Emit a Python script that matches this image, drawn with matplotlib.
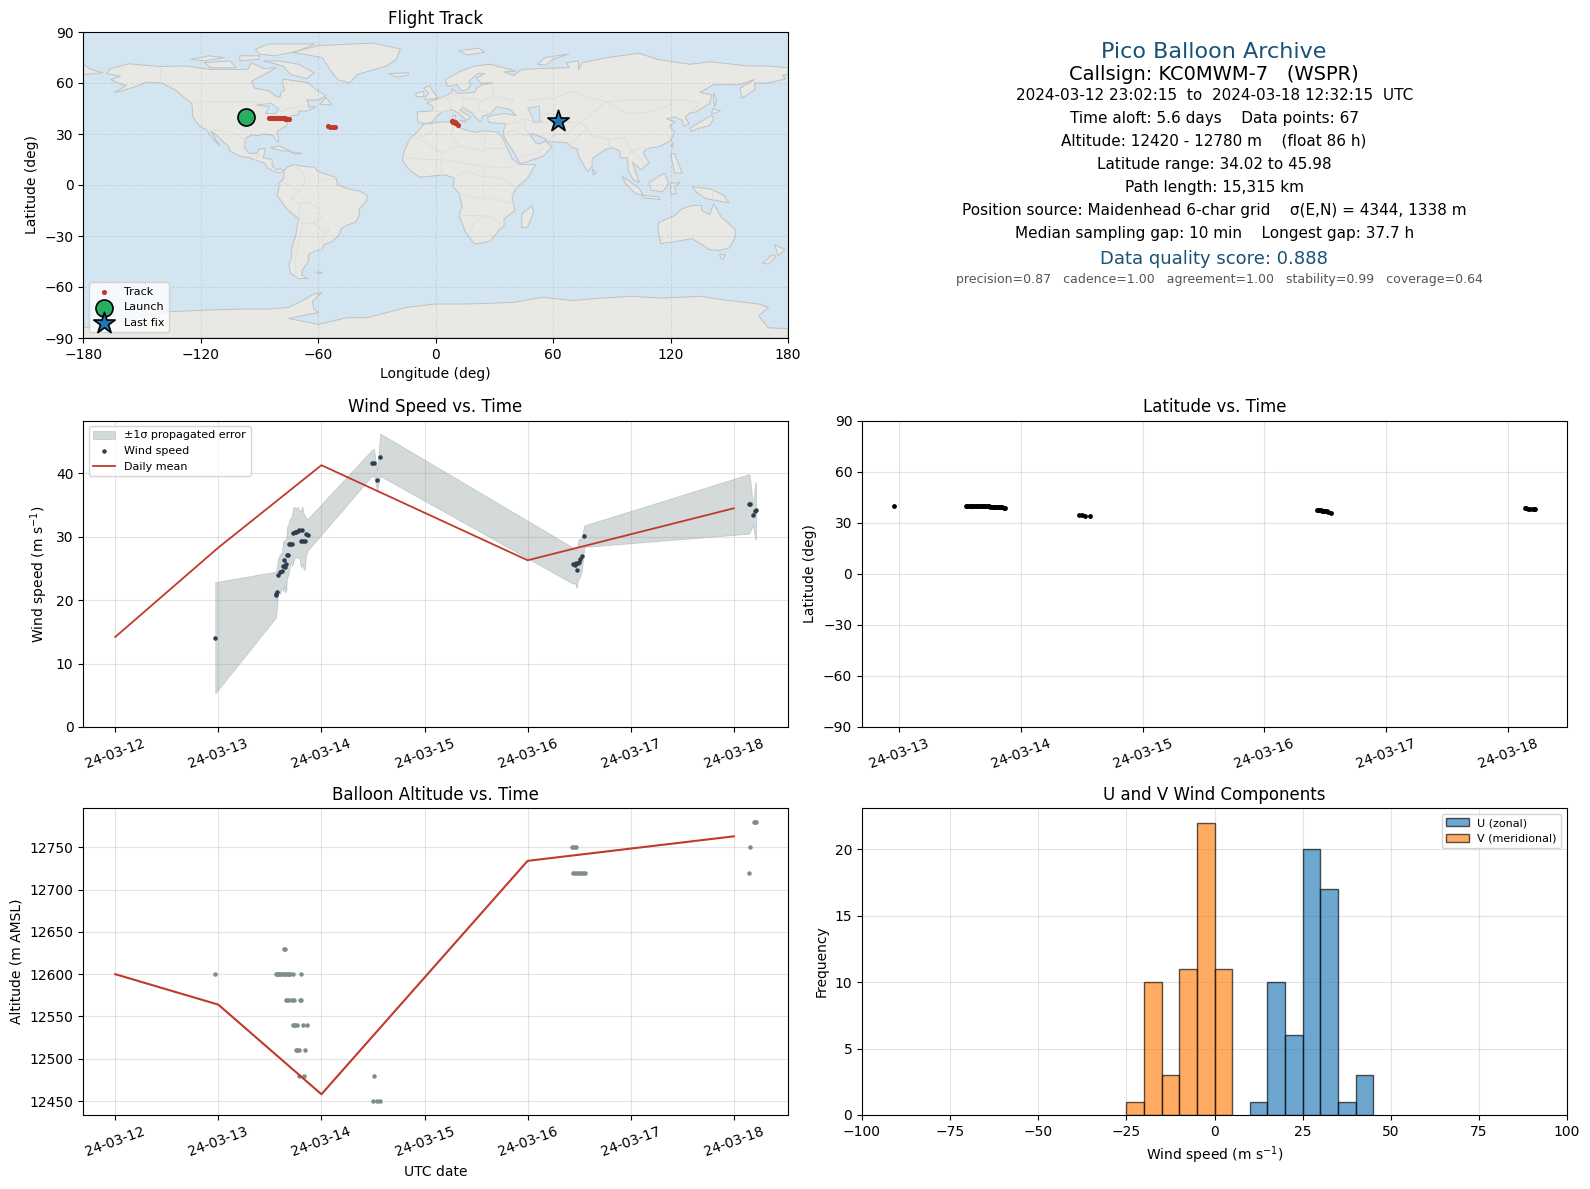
#!/usr/bin/env python3
"""Pico balloon flight summary: map, info text, wind, latitude, altitude, histogram."""
from datetime import datetime, timedelta

import matplotlib

matplotlib.use("Agg")
import matplotlib.dates as mdates
import matplotlib.pyplot as plt
from matplotlib.patches import Polygon

W, H = 1590, 1189

RED = "#c0392b"
DARK = "#2c3e50"
GREY = "#7f8c8d"
TITLE_BLUE = "#1a5276"
OCEAN = "#d3e5f1"
LAND = "#e8e8e4"
COAST = "#bfc2c3"
BORDER = "#dedfdb"

# daily means
day_t = [12, 13, 14, 16, 18]
day_wind = [14.2, 28.3, 41.3, 26.3, 34.5]
day_alt = [12600, 12564, 12458, 12734, 12763]

# wind speed samples, with upper and lower edge of the error band
wind_t = [12.97, 13.555, 13.56, 13.565, 13.58, 13.60, 13.615, 13.63, 13.64, 13.645, 13.66,
          13.665, 13.68, 13.69, 13.70, 13.715, 13.725, 13.74, 13.755, 13.77, 13.785, 13.80,
          13.815, 13.825, 13.84, 13.85, 13.865, 14.49, 14.51, 14.54, 14.57, 16.44, 16.455,
          16.465, 16.475, 16.485, 16.495, 16.505, 16.525, 16.55, 18.15, 18.155, 18.185,
          18.21, 18.215]
wind_speed = [14.1, 20.8, 21.0, 21.3, 24.0, 24.5, 24.6, 25.4, 26.4, 25.2, 25.7, 27.2, 27.2,
              28.9, 28.9, 28.9, 30.6, 30.7, 30.8, 30.9, 31.0, 29.3, 31.0, 29.4, 29.3, 30.4,
              30.3, 41.6, 41.6, 38.95, 42.6, 25.7, 25.5, 25.8, 24.8, 25.9, 26.0, 26.5, 27.0,
              30.2, 35.2, 35.2, 33.5, 34.1, 34.2]
wind_upper = [22.85, 24.5, 24.6, 25.0, 26.6, 27.3, 27.5, 29.5, 29.0, 29.3, 30.0, 31.5, 32.0,
              32.8, 32.8, 33.5, 34.6, 34.7, 34.5, 34.7, 34.3, 34.0, 34.8, 33.8, 33.3, 33.0,
              32.8, 43.7, 43.9, 40.5, 46.3, 28.3, 28.1, 28.3, 27.9, 28.8, 29.7, 29.5, 30.0,
              31.8, 39.9, 39.7, 35.0, 38.6, 38.5]
wind_lower = [5.3, 17.2, 17.5, 18.2, 21.3, 21.0, 22.0, 21.4, 22.5, 21.2, 21.5, 23.5, 24.0,
              25.0, 26.0, 25.4, 26.0, 26.6, 26.9, 26.6, 26.7, 25.2, 25.6, 25.0, 24.8, 27.0,
              27.8, 39.6, 39.6, 37.3, 39.6, 22.6, 22.7, 22.5, 21.9, 22.9, 23.4, 23.6, 24.5,
              28.4, 30.5, 30.7, 31.8, 29.6, 29.8]

# position samples (time, latitude, longitude)
pos_t = [12.96, 13.55, 13.56, 13.57, 13.58, 13.59, 13.60, 13.61, 13.62, 13.63, 13.64, 13.65,
         13.66, 13.67, 13.68, 13.69, 13.70, 13.71, 13.72, 13.73, 13.74, 13.75, 13.76, 13.77,
         13.78, 13.79, 13.80, 13.81, 13.82, 13.83, 13.84, 13.85, 13.86, 13.87, 14.48, 14.50,
         14.53, 14.57, 16.43, 16.44, 16.45, 16.46, 16.47, 16.48, 16.49, 16.50, 16.51, 16.52,
         16.55, 18.14, 18.15, 18.16, 18.18, 18.20, 18.21, 18.22]
pos_lat = [40.0, 39.6, 39.6, 39.6, 39.6, 39.6, 39.6, 39.6, 39.6, 39.6, 39.6, 39.6, 39.6,
           39.6, 39.6, 39.6, 39.6, 39.5, 39.5, 39.5, 39.5, 39.4, 39.4, 39.4, 39.3, 39.3, 39.2,
           39.1, 39.1, 39.0, 39.0, 39.0, 38.9, 38.9, 34.7, 34.4, 34.2, 34.1, 37.5, 37.4, 37.3,
           37.2, 37.1, 37.0, 36.9, 36.8, 36.6, 36.4, 35.5, 38.5, 38.4, 38.3, 38.1, 37.9, 37.8,
           37.8]
pos_lon = [-96.8, -85.0, -84.7, -84.4, -84.1, -83.8, -83.5, -83.1, -82.8, -82.5, -82.1, -81.8,
           -81.5, -81.1, -80.8, -80.5, -80.1, -79.8, -79.5, -79.1, -78.8, -78.5, -78.2, -77.9,
           -77.6, -77.3, -77.0, -76.7, -76.4, -76.1, -75.8, -75.5, -75.2, -75.0, -55.0, -54.0,
           -52.5, -51.2, 8.4, 8.6, 8.8, 9.0, 9.2, 9.4, 9.6, 9.8, 10.0, 10.3, 11.2, 60.5, 61.0,
           61.3, 61.6, 62.0, 62.2, 62.3]

# altitude samples
alt_t = [12.97, 13.64, 13.65, 13.56, 13.57, 13.58, 13.59, 13.60, 13.62, 13.64, 13.65, 13.66,
         13.68, 13.69, 13.70, 13.72, 13.805, 13.66, 13.67, 13.69, 13.71, 13.73, 13.79, 13.80,
         13.72, 13.73, 13.74, 13.76, 13.82, 13.86, 13.75, 13.76, 13.78, 13.84, 13.785, 13.83,
         14.51, 14.50, 14.54, 14.57, 16.43, 16.45, 16.47, 16.44, 16.46, 16.48, 16.50, 16.52,
         16.54, 16.56, 18.145, 18.155, 18.195, 18.205, 18.215]
alt_m = [12600, 12630, 12630, 12600, 12600, 12600, 12600, 12600, 12600, 12600, 12600, 12600,
         12600, 12600, 12600, 12600, 12600, 12570, 12570, 12570, 12570, 12570, 12570, 12570,
         12540, 12540, 12540, 12540, 12540, 12540, 12510, 12510, 12510, 12510, 12480, 12480,
         12480, 12450, 12450, 12450, 12750, 12750, 12750, 12720, 12720, 12720, 12720, 12720,
         12720, 12720, 12720, 12750, 12780, 12780, 12780]

# histogram bins, 5 m/s wide
u_edges = [10, 15, 20, 25, 30, 35, 40]
u_counts = [1, 10, 6, 20, 17, 1, 3]
v_edges = [-25, -20, -15, -10, -5, 0]
v_counts = [1, 10, 3, 11, 22, 11]

# rough land outlines, lon/lat degrees
north_america = [(-168, 65.5), (-166, 68.5), (-156.5, 71.3), (-141, 69.7), (-128, 70), (-115, 68),
                 (-108, 68), (-96, 68), (-94, 72), (-88, 68.5), (-81.5, 69), (-86, 66), (-94, 61),
                 (-92.5, 57), (-85, 55.3), (-82, 52.5), (-79.5, 51.5), (-79, 54.5), (-77, 56),
                 (-78, 59), (-78, 62.3), (-70, 61), (-65, 60), (-61, 56), (-56, 52.5), (-60, 50),
                 (-66, 50), (-65, 48.5), (-65, 46), (-61, 46), (-66, 43.5), (-70, 43.5),
                 (-70, 41.5), (-74, 40.5), (-75.5, 37.5), (-76, 35), (-81, 31.5), (-80, 27),
                 (-80.5, 25.2), (-82, 27), (-83, 29.2), (-85, 29.7), (-89, 30), (-90, 29),
                 (-94, 29.5), (-97, 27.5), (-97.7, 22), (-95, 18.5), (-91, 18.8), (-90.5, 21),
                 (-87, 21.5), (-88, 16), (-83.5, 15), (-83.5, 11), (-81, 9), (-79, 9.5),
                 (-77.5, 8.5), (-78.5, 7.5), (-80.5, 7.3), (-83, 8.3), (-85.7, 10), (-87.5, 13),
                 (-92, 14.5), (-95, 16), (-100, 17), (-105, 20), (-106, 23), (-109, 26),
                 (-112.5, 30), (-114.7, 31.5), (-112, 26), (-110, 23), (-112, 25), (-115, 29),
                 (-117, 32.5), (-120.5, 34.5), (-124, 40), (-124.5, 48), (-128, 51), (-133, 56),
                 (-140, 60), (-148, 60.5), (-153, 58), (-160, 55.5), (-164, 54.5), (-158, 58.5),
                 (-162, 60), (-166, 62), (-161, 64)]
south_america = [(-77.5, 8.5), (-75, 11), (-72, 12), (-68, 11), (-62, 10.5), (-60, 8), (-55, 6),
                 (-51, 4.5), (-50, 0), (-44, -2.5), (-39, -3.5), (-35, -6), (-35, -9), (-39, -14),
                 (-39, -18), (-41, -22), (-45, -23.5), (-48.5, -26), (-49, -29), (-53, -33.5),
                 (-57, -35), (-58, -38), (-62, -39), (-65, -41), (-65, -45), (-68, -50),
                 (-68.5, -53), (-65, -55), (-70, -55), (-74, -52), (-75, -47), (-73.5, -42),
                 (-73.5, -37), (-71.5, -30), (-70, -20), (-76, -14), (-81, -6), (-80, -2), (-80, 1),
                 (-77.5, 4)]
africa = [(-6, 35.8), (3, 37), (10, 37.3), (11, 34), (15, 32.5), (20, 31), (25, 32), (32, 31),
          (34, 28), (37, 21), (39, 15.5), (43, 12), (51, 12), (47, 4), (41, -2), (39, -7),
          (40.5, -15), (35, -20), (35, -24), (32.5, -26.5), (28, -33), (20, -34.8), (18, -32),
          (15, -27), (12, -18), (13.5, -12), (12, -5), (9, -1), (9.5, 4), (5, 6), (-4, 5),
          (-8, 4.5), (-13, 8.5), (-17, 14.5), (-16, 20), (-13, 27.5), (-9.5, 31)]
eurasia = [(-9, 37), (-9.5, 43), (-2, 43.5), (-1, 46), (-4.5, 48.4), (2, 51), (4, 52), (8, 54),
           (8.5, 57), (11, 54), (14, 54), (20, 54.5), (21, 57), (24, 59), (29.5, 60), (23, 60),
           (21, 63), (25, 65.5), (22, 65.8), (17, 61), (18, 59), (16, 56), (13, 55.5), (11, 59),
           (6, 58), (5, 62), (13, 67), (20, 70), (28, 71), (41, 67), (35, 66.5), (40, 64.5),
           (44, 68), (54, 68.5), (68, 69), (67, 72), (73, 73), (73, 68), (75, 72), (88, 75),
           (104, 77.5), (113, 74), (130, 71), (140, 72.5), (160, 70), (170, 70), (180, 69),
           (180, 65), (177, 64.5), (179, 62.5), (170, 60), (163, 60), (163, 56), (156.5, 51),
           (155.5, 57), (163, 62), (155, 59), (142, 59), (135, 54.5), (141, 53), (140, 48),
           (133, 43), (130, 42.5), (127.5, 40), (129.5, 36), (126.5, 34.5), (126, 38), (122, 40),
           (118, 39), (122.5, 37), (119.5, 35), (122, 31), (120, 26), (114, 22.5), (108, 21.5),
           (106, 19), (109, 13), (105, 9), (100.5, 13.5), (103, 5), (104, 1.5), (101, 3),
           (98.5, 8), (98, 16), (94.5, 16), (94, 20), (90, 22), (87, 21), (80, 15.5), (80, 11),
           (77.5, 8), (73, 17), (72.5, 21), (69, 22.5), (67, 25), (57, 25.5), (56.5, 27),
           (50, 30), (48, 30), (51, 25), (53, 24), (56, 26), (59.5, 22.5), (55, 17), (45, 13),
           (43, 13), (39, 21), (35, 28), (34.5, 31.5), (36, 36), (30, 36.5), (27, 37), (26.5, 40),
           (29, 41), (35, 42), (41, 41), (38, 44.5), (31, 46), (28, 42), (24, 40.5), (23, 37),
           (20, 40), (19, 42), (14, 45.5), (12.5, 44), (18, 40), (16, 38), (12, 42), (8.5, 44.3),
           (3, 43), (0, 39.5), (-2, 36.8), (-5.5, 36)]
antarctica = [(-180, -90), (-180, -84), (-155, -80), (-150, -77), (-135, -74.5), (-115, -73.5),
              (-100, -73), (-85, -73), (-75, -72), (-68, -68), (-62, -64), (-58, -63.3), (-60, -65),
              (-63, -69), (-62, -73), (-60, -75), (-75, -78.5), (-60, -82), (-45, -78), (-35, -78),
              (-28, -76), (-15, -72), (0, -70), (15, -70), (30, -69.5), (40, -69), (55, -66),
              (70, -68), (85, -66.5), (100, -65.5), (115, -66.5), (135, -65.5), (150, -68),
              (165, -70), (170, -72), (165, -77), (170, -84), (180, -84.5), (180, -90)]
greenland = [(-73, 78), (-60, 82), (-32, 83.5), (-18, 80), (-20, 74), (-25, 70), (-40, 65),
             (-44, 60), (-50, 62), (-54, 68), (-58, 75)]
australia = [(114, -22), (122, -18), (126, -14), (131, -12), (136, -12), (136, -15), (140, -17.5),
             (142, -11), (146, -19), (153, -26), (153, -31), (150, -37), (145, -38.5), (140, -38),
             (136, -35), (131, -31.5), (124, -33), (115, -34.5), (113.5, -26)]
islands = [
    [(-80, 73), (-70, 71), (-62, 66), (-66, 62.5), (-74, 65), (-78, 70), (-88, 73)],  # Baffin
    [(-118, 72), (-105, 73), (-102, 69), (-115, 69)],  # Victoria
    [(-92, 80), (-85, 83), (-62, 83), (-70, 79), (-82, 76), (-90, 77)],  # Ellesmere
    [(-125, 74), (-116, 76), (-108, 75), (-118, 73)],
    [(-100, 76), (-90, 76), (-90, 74), (-100, 73)],
    [(-59, 47.5), (-53, 47), (-56, 51.5)],  # Newfoundland
    [(-84.5, 22), (-80, 23), (-74, 20), (-78, 20)],  # Cuba
    [(-74, 19.5), (-68.5, 18.7), (-72, 18)],  # Hispaniola
    [(-24, 65.5), (-14, 66), (-14, 64.5), (-20, 63.5)],  # Iceland
    [(-5.5, 50), (1, 51.2), (0, 53), (-2, 56), (-3, 58.5), (-6, 57), (-3.5, 54), (-5, 52)],  # Britain
    [(-10, 52), (-6, 52), (-6, 55), (-10, 54)],  # Ireland
    [(12, 79), (22, 80.5), (25, 78), (16, 76.5)],  # Svalbard
    [(52, 71), (56, 75), (68, 77), (60, 74), (56, 70.5)],  # Novaya Zemlya
    [(8.3, 41), (9.7, 41), (9.7, 39), (8.5, 39)],  # Sardinia
    [(12.5, 38), (15.5, 38.2), (15, 36.7)],  # Sicily
    [(141.5, 45), (145.5, 43.5), (141, 41.8)],  # Hokkaido
    [(132, 35), (141, 41), (142, 39), (140, 35), (135, 33.5), (130.5, 31.5), (130, 33.5)],  # Honshu
    [(142, 54), (143.5, 50), (142.5, 46), (142, 50)],  # Sakhalin
    [(120.2, 23), (121.5, 25), (121, 22)],  # Taiwan
    [(120, 18.5), (122, 18.5), (124, 13), (126, 7), (122, 7), (121, 13)],  # Philippines
    [(109, 1.5), (117, 7), (119, 1), (116, -4), (110, -3)],  # Borneo
    [(95, 5.5), (104, -2), (106, -6), (102, -5), (97, 1)],  # Sumatra
    [(105.5, -6), (114, -7), (114.5, -8.5), (106, -7.5)],  # Java
    [(120, 1), (125, 1.5), (122, -1), (123, -5), (120, -5.5)],  # Sulawesi
    [(131, -1), (141, -2.5), (147, -6), (150, -10.5), (143, -9), (138, -8), (133, -4)],  # New Guinea
    [(145, -41), (148, -41), (147, -43.5), (146, -43.5)],  # Tasmania
    [(173, -35), (178.5, -38), (175, -41.5), (174, -38)],  # NZ north
    [(172, -41), (174, -42), (170, -46.5), (167, -46)],  # NZ south
    [(49.5, -12), (50, -16), (47, -25), (44, -25), (44, -17)],  # Madagascar
    [(80, 9.5), (82, 7), (80.5, 6)],  # Sri Lanka
    [(-61, -51.3), (-58, -51.3), (-59, -52.3)],  # Falklands
    [(-179.9, 71), (-179.9, 65), (-170, 66), (-176, 68)],  # Chukotka across the date line
]
inland_water = [
    [(47, 45), (53, 46.5), (53, 40), (54, 37), (50, 37), (49, 41)],  # Caspian
    [(-92, 47), (-84, 48), (-80, 45), (-82, 42), (-87, 42), (-85, 46)],  # Great Lakes
]
borders = [
    [(-141, 69.7), (-141, 60)],
    [(-123, 49), (-95, 49), (-88, 48), (-83, 45), (-79, 43), (-75, 45), (-70, 46), (-67, 47)],
    [(-117, 32.5), (-106, 31.7), (-101, 29.5), (-97, 26)],
    [(-92, 14.5), (-91, 17.5), (-89, 18)],
    [(-70, -18), (-68, -23), (-70, -33), (-72, -45), (-71, -52)],
    [(-70, -18), (-69, -11), (-74, -8), (-70, -4), (-75, 0), (-78, 2)],
    [(-72, 12), (-67, 6), (-67, 1), (-70, -4)],
    [(-68, -23), (-62, -22), (-58, -20), (-60, -14), (-65, -10), (-69, -11)],
    [(-62, -22), (-58, -27), (-54, -26), (-57, -30), (-58, -34)],
    [(-60, 8), (-60, 2), (-51, 4)],
    [(-13, 27.5), (-8.5, 27.5), (-1, 32), (-2, 35)],
    [(-8.5, 27.5), (3, 19), (12, 23), (25, 20), (25, 32)],
    [(25, 22), (36, 22)],
    [(-16, 16), (-5, 15), (3, 15), (14, 13), (24, 11), (34, 10), (42, 11)],
    [(9.5, 4), (15, 8), (24, 5), (34, 4), (41, -2)],
    [(12, -5), (22, -8), (30, -8), (40, -11)],
    [(12, -18), (25, -18), (33, -22), (32.5, -26)],
    [(17, -29), (20, -22), (25, -18)],
    [(10, 37), (8, 30), (12, 23)],
    [(3, 19), (3, 6)],
    [(24, 11), (24, -8)],
    [(-2, 43.5), (3, 43), (7, 44), (8, 48), (6, 51), (4, 52)],
    [(8, 54), (14, 51), (24, 50), (30, 52), (40, 50), (38, 47)],
    [(14, 54), (14, 46), (20, 42)],
    [(28, 60), (30, 52)],
    [(28, 42), (22, 44), (22, 48), (24, 50)],
    [(47, 50), (60, 51), (70, 55), (80, 51), (87, 49), (98, 50), (107, 50), (120, 50), (127, 50),
     (135, 48), (131, 43)],
    [(53, 42), (60, 42), (67, 37), (74, 37), (80, 42), (87, 49)],
    [(87, 49), (98, 42), (110, 43), (120, 47), (120, 50)],
    [(36, 36), (42, 37), (45, 39), (48, 38), (54, 37), (61, 36), (61, 30), (57, 25.5)],
    [(45, 39), (46, 33), (48, 30)],
    [(34.5, 30), (39, 32), (46, 29), (48, 30)],
    [(43, 16), (52, 19), (55, 22)],
    [(61, 30), (67, 30), (70, 33), (74, 37), (78, 33), (74, 30), (70, 25), (69, 23)],
    [(78, 33), (80, 29), (88, 27), (97, 28), (98, 24), (100, 20), (105, 22), (108, 21.5)],
    [(88, 27), (89, 22)],
    [(100, 20), (98, 16)],
    [(100, 20), (105, 15), (107, 11)],
    [(141, -2.5), (141, -9)],
]
land_shapes = [north_america, south_america, africa, eurasia, antarctica, greenland, australia] + islands


def day_to_date(values):
    """Decimal day of March 2024 to datetimes."""
    start = datetime(2024, 3, 1)
    return [start + timedelta(days=v - 1) for v in values]


def place(left, top, right, bottom):
    """Axes from pixel edges, measured from the top-left of the figure."""
    return fig.add_axes([left / W, 1 - bottom / H, (right - left) / W, (bottom - top) / H])


def style_dates(ax):
    ax.xaxis.set_major_locator(mdates.DayLocator())
    ax.xaxis.set_major_formatter(mdates.DateFormatter("%y-%m-%d"))
    ax.tick_params(axis="x", labelrotation=20)
    ax.grid(True, alpha=0.35)
    ax.set_axisbelow(True)


fig = plt.figure(figsize=(W / 100, H / 100), dpi=100)

LEFT = (83.2, 788)
RIGHT = (862, 1567)
ax_map = place(LEFT[0], 32, LEFT[1], 338)
ax_info = place(RIGHT[0], 32, RIGHT[1], 338)
ax_wind = place(LEFT[0], 420.5, LEFT[1], 727)
ax_lat = place(RIGHT[0], 420.5, RIGHT[1], 727)
ax_alt = place(LEFT[0], 808, LEFT[1], 1115)
ax_hist = place(RIGHT[0], 808, RIGHT[1], 1115)

# map
ax_map.set_facecolor(OCEAN)
for shape in land_shapes:
    ax_map.add_patch(Polygon(shape, closed=True, facecolor=LAND, edgecolor=COAST,
                             linewidth=0.7, joinstyle="round", zorder=1))
for shape in inland_water:
    ax_map.add_patch(Polygon(shape, closed=True, facecolor=OCEAN, edgecolor=COAST,
                             linewidth=0.6, zorder=1.2))
for line in borders:
    ax_map.plot(*zip(*line), color=BORDER, linewidth=0.7, zorder=1.1)
ax_map.scatter(pos_lon, pos_lat, s=7, color=RED, label="Track", zorder=4)
ax_map.scatter(pos_lon[0], pos_lat[0], s=150, marker="o", color="#27ae60", edgecolor="black",
               linewidth=1.2, label="Launch", zorder=5)
ax_map.scatter(pos_lon[-1], pos_lat[-1], s=260, marker="*", color="#1f77b4", edgecolor="black",
               linewidth=1.2, label="Last fix", zorder=5)
ax_map.set_xlim(-180, 180)
ax_map.set_ylim(-90, 90)
ax_map.set_xticks(range(-180, 181, 60))
ax_map.set_yticks(range(-90, 91, 30))
ax_map.grid(True, color="#000000", alpha=0.07, linewidth=0.7, linestyle="--", zorder=2)
ax_map.set_xlabel("Longitude (deg)")
ax_map.set_ylabel("Latitude (deg)")
ax_map.set_title("Flight Track", fontsize=12)
ax_map.legend(loc="lower left", fontsize=8)

# info panel
ax_info.axis("off")
info_lines = [
    ("Pico Balloon Archive", 16, TITLE_BLUE),
    ("Callsign: KC0MWM-7   (WSPR)", 14, "black"),
    ("2024-03-12 23:02:15  to  2024-03-18 12:32:15  UTC", 11, "black"),
    ("Time aloft: 5.6 days    Data points: 67", 11, "black"),
    ("Altitude: 12420 - 12780 m    (float 86 h)", 11, "black"),
    ("Latitude range: 34.02 to 45.98", 11, "black"),
    ("Path length: 15,315 km", 11, "black"),
    ("Position source: Maidenhead 6-char grid    \u03c3(E,N) = 4344, 1338 m", 11, "black"),
    ("Median sampling gap: 10 min    Longest gap: 37.7 h", 11, "black"),
    ("Data quality score: 0.888", 13, TITLE_BLUE),
    ("precision=0.87   cadence=1.00   agreement=1.00   stability=0.99   coverage=0.64", 9, "#555555"),
]
info_y = [52, 74.5, 95, 118, 141.5, 164.5, 187.5, 210.5, 233.5, 258.5, 279]
for (text, size, colour), y in zip(info_lines, info_y):
    x = 0.5065 if size == 9 else 0.4995
    ax_info.text(x, (338 - y) / 306, text, fontsize=size, color=colour,
                 ha="center", va="center", transform=ax_info.transAxes)

# wind speed
ax_wind.fill_between(day_to_date(wind_t), wind_lower, wind_upper, color=GREY, alpha=0.33,
                     linewidth=0.6, label="\u00b11\u03c3 propagated error")
ax_wind.scatter(day_to_date(wind_t), wind_speed, s=5, color=DARK, label="Wind speed", zorder=3)
ax_wind.plot(day_to_date(day_t), day_wind, color=RED, linewidth=1.3, label="Daily mean", zorder=4)
ax_wind.set_ylim(bottom=0)
ax_wind.set_ylabel("Wind speed (m s$^{-1}$)")
ax_wind.set_title("Wind Speed vs. Time", fontsize=12)
style_dates(ax_wind)
ax_wind.legend(loc="upper left", fontsize=8)

# latitude
ax_lat.scatter(day_to_date(pos_t), pos_lat, s=6, color="black")
ax_lat.set_ylim(-90, 90)
ax_lat.set_yticks(range(-90, 91, 30))
ax_lat.set_ylabel("Latitude (deg)")
ax_lat.set_title("Latitude vs. Time", fontsize=12)
style_dates(ax_lat)

# altitude
ax_alt.scatter(day_to_date(alt_t), alt_m, s=5, color=GREY)
ax_alt.plot(day_to_date(day_t), day_alt, color=RED, linewidth=1.5)
ax_alt.set_xlabel("UTC date")
ax_alt.set_ylabel("Altitude (m AMSL)")
ax_alt.set_title("Balloon Altitude vs. Time", fontsize=12)
style_dates(ax_alt)

# wind components
ax_hist.bar(u_edges, u_counts, width=5, align="edge", color="#1f77b4", alpha=0.65,
            edgecolor="black", label="U (zonal)")
ax_hist.bar(v_edges, v_counts, width=5, align="edge", color="#ff7f0e", alpha=0.65,
            edgecolor="black", label="V (meridional)")
ax_hist.set_xlim(-100, 100)
ax_hist.set_xlabel("Wind speed (m s$^{-1}$)")
ax_hist.set_ylabel("Frequency")
ax_hist.set_title("U and V Wind Components", fontsize=12)
ax_hist.grid(True, alpha=0.35)
ax_hist.set_axisbelow(True)
ax_hist.legend(loc="upper right", fontsize=8)

fig.savefig("out.png", dpi=100)
